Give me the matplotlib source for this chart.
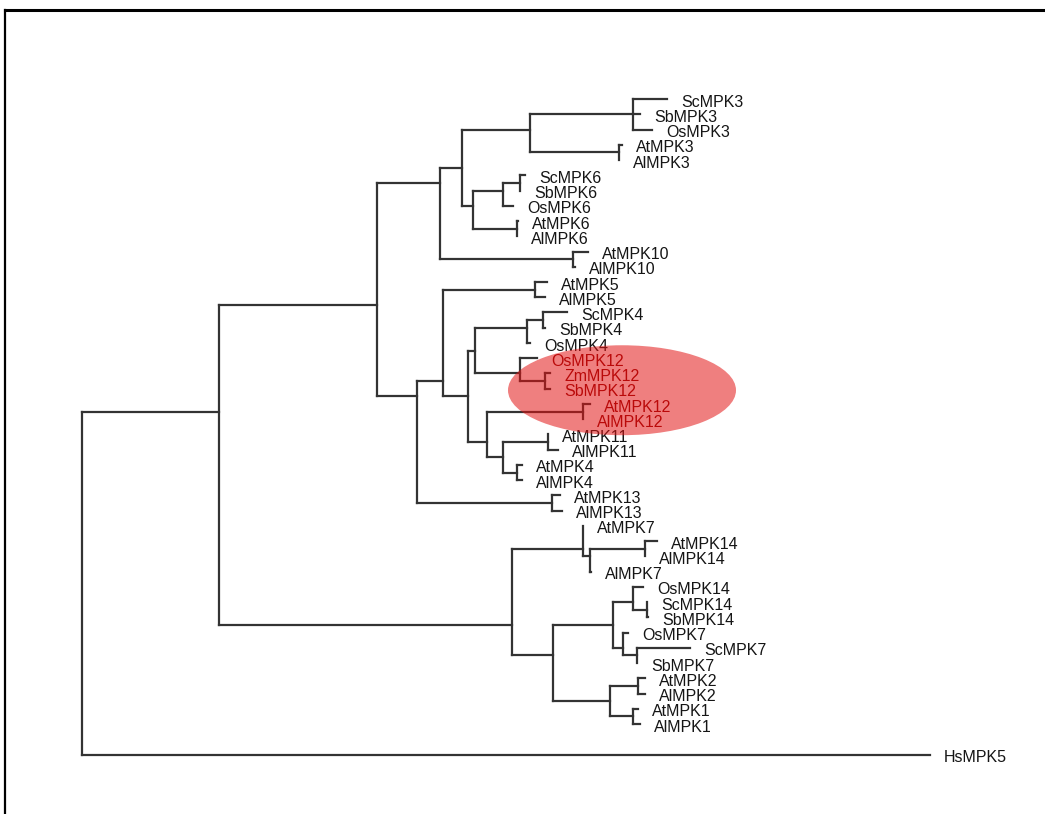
import matplotlib.pyplot as plt
from matplotlib.patches import Ellipse
from matplotlib.lines import Line2D

# MAPK 系统发育树
# 内部节点 = (距根深度, [子节点])，叶子 = (名称, 距根深度)
mpk3_6_10 = (0.358, [
    (0.380, [
        (0.448, [
            (0.551, [("ScMPK3", 0.585), ("SbMPK3", 0.558), ("OsMPK3", 0.570)]),
            (0.537, [("AtMPK3", 0.540), ("AlMPK3", 0.537)]),
        ]),
        (0.391, [
            (0.421, [
                (0.438, [("ScMPK6", 0.443), ("SbMPK6", 0.438)]),
                ("OsMPK6", 0.431),
            ]),
            (0.435, [("AtMPK6", 0.436), ("AlMPK6", 0.435)]),
        ]),
    ]),
    (0.491, [("AtMPK10", 0.506), ("AlMPK10", 0.493)]),
])

mpk4_5_11_12_13 = (0.335, [
    (0.361, [
        (0.453, [("AtMPK5", 0.465), ("AlMPK5", 0.463)]),
        (0.386, [
            (0.393, [
                (0.445, [
                    (0.461, [("ScMPK4", 0.485), ("SbMPK4", 0.463)]),
                    ("OsMPK4", 0.448),
                ]),
                (0.438, [
                    ("OsMPK12", 0.455),
                    (0.463, [("ZmMPK12", 0.468), ("SbMPK12", 0.468)]),
                ]),
            ]),
            (0.405, [
                (0.501, [("AtMPK12", 0.508), ("AlMPK12", 0.501)]),
                (0.421, [
                    (0.466, [("AtMPK11", 0.466), ("AlMPK11", 0.476)]),
                    (0.435, [("AtMPK4", 0.440), ("AlMPK4", 0.440)]),
                ]),
            ]),
        ]),
    ]),
    (0.470, [("AtMPK13", 0.478), ("AlMPK13", 0.480)]),
])

mpk1_2_7_14 = (0.430, [
    (0.501, [
        ("AtMPK7", 0.501),
        (0.508, [
            (0.563, [("AtMPK14", 0.575), ("AlMPK14", 0.563)]),
            ("AlMPK7", 0.509),
        ]),
    ]),
    (0.471, [
        (0.531, [
            (0.551, [
                ("OsMPK14", 0.561),
                (0.565, [("ScMPK14", 0.565), ("SbMPK14", 0.566)]),
            ]),
            (0.541, [
                ("OsMPK7", 0.546),
                (0.555, [("ScMPK7", 0.608), ("SbMPK7", 0.555)]),
            ]),
        ]),
        (0.528, [
            (0.556, [("AtMPK2", 0.563), ("AlMPK2", 0.563)]),
            (0.551, [("AtMPK1", 0.556), ("AlMPK1", 0.558)]),
        ]),
    ]),
])

outgroup = ("HsMPK5", 0.848)
tree = (0.0, [(0.137, [(0.295, [mpk3_6_10, mpk4_5_11_12_13]), mpk1_2_7_14]), outgroup])

# 红色椭圆标出的 MPK12 分支
highlight = ["OsMPK12", "ZmMPK12", "SbMPK12", "AtMPK12", "AlMPK12"]

LINE_KW = dict(color="#333333", lw=1.6, solid_capstyle="projecting")
LABEL_PAD = 0.014
OUTGROUP_GAP = 2


def is_leaf(node):
    return isinstance(node[0], str)


def leaf_order(node, out):
    if is_leaf(node):
        out.append(node[0])
    else:
        for c in node[1]:
            leaf_order(c, out)
    return out


names = leaf_order(tree, [])
rows = {n: i for i, n in enumerate(names)}
rows[outgroup[0]] = len(names) - 2 + OUTGROUP_GAP


def draw(ax, node, parent_x):
    if is_leaf(node):
        name, x = node
        y = rows[name]
        ax.plot([parent_x, x], [y, y], **LINE_KW)
        # 高亮分支的标签用红色
        color = "#8a0000" if name in highlight else "#151515"
        ax.text(x + LABEL_PAD, y + 0.2, name, ha="left", va="center",
                fontsize=11.5, family="Liberation Sans", color=color)
        return [y]
    x, children = node
    ys, child_y = [], []
    for c in children:
        cy = draw(ax, c, x)
        child_y.append(sum(cy) / len(cy))
        ys += cy
    ax.plot([x, x], [min(child_y), max(child_y)], **LINE_KW)
    if parent_x is not None:
        y = sum(ys) / len(ys)
        ax.plot([parent_x, x], [y, y], **LINE_KW)
    return ys


fig = plt.figure(figsize=(10.45, 8.14), dpi=100)
ax = fig.add_axes([0, 0, 1, 1])
draw(ax, tree, None)

# 高亮椭圆（半透明覆盖在树上）
hy = [rows[n] for n in highlight]
ax.add_patch(Ellipse((0.540, (min(hy) + max(hy)) / 2 + 0.1), 0.228, 5.9,
                     facecolor=(0.89, 0.07, 0.07), alpha=0.54, edgecolor="none", zorder=5))

ax.set_xlim(-0.082, 0.963)
ax.set_ylim(46.9, -6.5)
ax.axis("off")

# 截图边框：上边和左边
fig.add_artist(Line2D([0.005, 1.0], [1 - 10 / 814, 1 - 10 / 814], color="black", lw=2.2))
fig.add_artist(Line2D([5 / 1045, 5 / 1045], [0, 1 - 10 / 814], color="black", lw=1.6))

fig.savefig("out.png", dpi=100)
